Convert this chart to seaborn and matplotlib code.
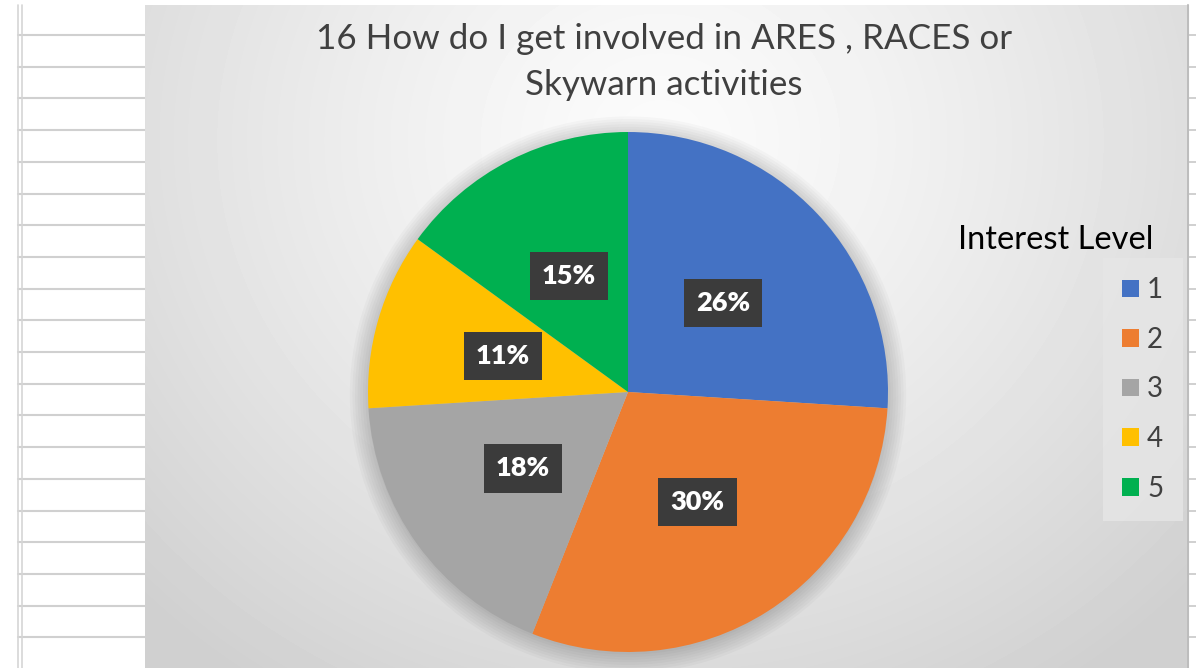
import numpy as np
import seaborn as sns
import matplotlib.pyplot as plt
from matplotlib.patches import Patch, Circle

# veriler
levels = ["1", "2", "3", "4", "5"]
shares = [26, 30, 18, 11, 15]
colors = ["#4472C4", "#ED7D31", "#A5A5A5", "#FFC000", "#00B050"]
title = "16 How do I get involved in ARES , RACES or\nSkywarn activities"
legend_title = "Interest Level"

sns.set_theme(style="white")
plt.rcParams['font.family'] = ['Lato', 'DejaVu Sans']

W, H = 1196, 668
fig = plt.figure(figsize=(W / 100, H / 100), dpi=100)
fig.patch.set_facecolor("white")

# arka plan: tablo cizgileri
bg = fig.add_axes([0, 0, 1, 1])
bg.set_xlim(0, W)
bg.set_ylim(H, 0)
bg.axis("off")
for y in np.arange(35, H + 1, 31.7):
    bg.plot([18, 145], [y, y], color="#d0d0d0", lw=1.5)
    bg.plot([1188, 1196], [y, y], color="#c8c8c8", lw=1.2)
bg.plot([18, 18], [5, H], color="#d6d6d6", lw=1.2)
bg.plot([22, 22], [5, H], color="#d6d6d6", lw=1.2)
bg.plot([1188, 1188], [5, H], color="#bdbdbd", lw=1.5)

# grafik alani: radyal gradyan
x0, x1, y0 = 145, 1187, 5
chart = fig.add_axes([x0 / W, 0, (x1 - x0) / W, (H - y0) / H])
xx, yy = np.meshgrid(np.arange(x0, x1), np.arange(y0, H))
r = np.hypot(xx - 660, (yy - 140) * 1.1)
t = np.clip(r / 720, 0, 1)
shade = 0.985 - 0.17 * t ** 1.3
chart.imshow(shade, cmap="gray", vmin=0, vmax=1, aspect="auto",
             extent=(x0, x1, H, y0))
chart.axis("off")

# pasta
cx, cy, rad = 628, 392, 260
ax = fig.add_axes([(cx - rad) / W, (H - cy - rad) / H, 2 * rad / W, 2 * rad / H])
ax.set_facecolor("none")
for k in range(8):
    ax.add_patch(Circle((0.0, -0.01), 1.0 + 0.01 * k, color="black",
                        alpha=0.025, lw=0, zorder=0, clip_on=False))
wedges, texts, autotexts = ax.pie(
    shares, colors=colors, startangle=90, counterclock=False,
    autopct="%1.0f%%", pctdistance=0.5, radius=1,
    wedgeprops=dict(linewidth=0),
    textprops=dict(color="white", fontsize=19.5, fontweight="heavy"))
for t_ in autotexts:
    t_.set_bbox(dict(boxstyle="square,pad=0.45", fc="#3b3b3b", ec="none"))
ax.set_xlim(-1, 1)
ax.set_ylim(-1, 1)
ax.set_aspect("equal")
ax.axis("off")

fig.text(664 / W, 1 - 62 / H, title, ha="center", va="center",
         fontsize=25.2, color="#404040", linespacing=1.55)

fig.text(1056 / W, 1 - 240 / H, legend_title, ha="center", va="center",
         fontsize=23.5, color="black")
handles = [Patch(facecolor=c, edgecolor="none") for c in colors]
leg = fig.legend(handles, levels, loc="upper left",
                 bbox_to_anchor=(1111 / W, 1 - 266 / H),
                 frameon=True, fontsize=20, handlelength=0.6,
                 handleheight=0.6, handletextpad=0.3, labelspacing=0.85,
                 borderpad=0.4, borderaxespad=0, labelcolor="#404040")
leg.get_frame().set_facecolor("#e6e6e6")
leg.get_frame().set_edgecolor("none")
leg.get_frame().set_boxstyle("square")

fig.savefig("out.png", dpi=100)
